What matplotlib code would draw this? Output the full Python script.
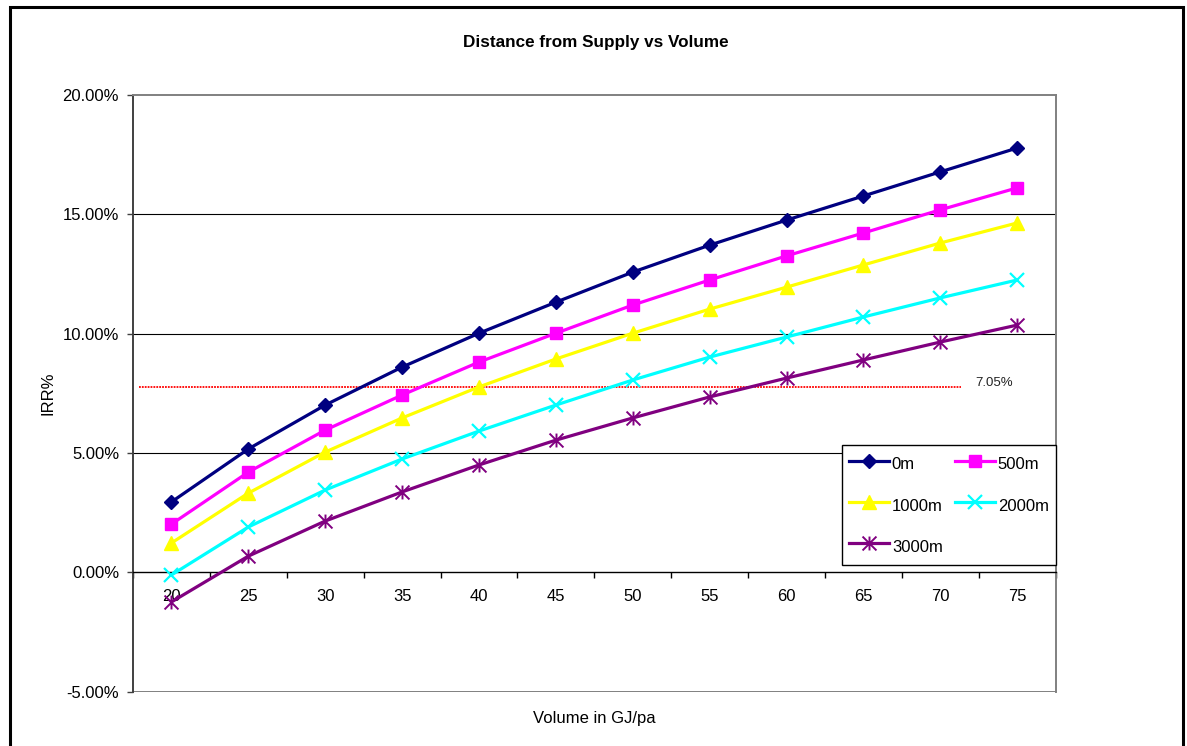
import matplotlib
matplotlib.use("Agg")
import matplotlib.pyplot as plt
from matplotlib.path import Path
from matplotlib.patches import Rectangle
from matplotlib.ticker import FuncFormatter, FixedLocator
import matplotlib.transforms as mtransforms

plt.rcParams['font.family'] = ['Liberation Sans', 'DejaVu Sans']

# Annual volume (GJ/pa) and IRR (%) for each distance from supply
volumes = [20, 25, 30, 35, 40, 45, 50, 55, 60, 65, 70, 75]
irr_0m = [2.95, 5.17, 7.01, 8.60, 10.02, 11.32, 12.58, 13.71, 14.76, 15.77, 16.78, 17.78]
irr_500m = [2.02, 4.20, 5.96, 7.43, 8.81, 10.02, 11.20, 12.25, 13.26, 14.22, 15.19, 16.11]
irr_1000m = [1.23, 3.32, 5.04, 6.47, 7.77, 8.94, 10.02, 11.03, 11.95, 12.88, 13.80, 14.64]
irr_2000m = [-0.11, 1.90, 3.45, 4.75, 5.92, 7.01, 8.06, 9.02, 9.86, 10.70, 11.50, 12.25]
irr_3000m = [-1.24, 0.68, 2.15, 3.37, 4.50, 5.54, 6.47, 7.35, 8.14, 8.90, 9.65, 10.36]
series_labels = ['0m', '500m', '1000m', '2000m', '3000m']

# Hurdle reference line and its annotation
hurdle_level = 7.77
hurdle_text = '7.05%'

y_ticks = [-5, 0, 5, 10, 15, 20]

# Excel-style asterisk marker: an X with a vertical bar through it
star_path = Path(
    [(-1, -1), (1, 1), (-1, 1), (1, -1), (0, -1), (0, 1)],
    [Path.MOVETO, Path.LINETO, Path.MOVETO, Path.LINETO, Path.MOVETO, Path.LINETO],
)

styles = [
    dict(color='#000080', marker='D', markersize=7.5),
    dict(color='#FF00FF', marker='s', markersize=9),
    dict(color='#FFFF00', marker='^', markersize=10.5),
    dict(color='#00FFFF', marker='x', markersize=9.5, markeredgewidth=1.6),
    dict(color='#800080', marker=star_path, markersize=10, markeredgewidth=1.4),
]
all_series = [irr_0m, irr_500m, irr_1000m, irr_2000m, irr_3000m]

W, H = 1187, 746
fig = plt.figure(figsize=(W / 100, H / 100), dpi=100)
fig.patch.set_facecolor('white')

left, right, top, bottom = 133, 1055.7, 95, 691.7
ax = fig.add_axes([left / W, 1 - bottom / H, (right - left) / W, (bottom - top) / H])

xpos = list(range(len(volumes)))
handles = []
for vals, lab, st in zip(all_series, series_labels, styles):
    h, = ax.plot(xpos, vals, linewidth=2.3, label=lab, zorder=4,
                 markerfacecolor=st['color'], markeredgecolor=st['color'], **st)
    handles.append(h)

ax.set_xlim(-0.5, len(volumes) - 0.5)
ax.set_ylim(-5, 20)

# Horizontal gridlines
for yv in [5, 10, 15]:
    ax.axhline(yv, color='black', linewidth=0.8, zorder=1)
ax.axhline(-5, color='#808080', linewidth=1.4, zorder=1)

# Reference line
ax.axhline(hurdle_level, xmin=0.0065, xmax=0.897, color='#FF0000',
           linestyle=(0, (1, 0.6)), linewidth=1.3, zorder=3)
trans = mtransforms.blended_transform_factory(ax.transAxes, ax.transData)
ax.annotate(hurdle_text, xy=(0.9125, hurdle_level), xycoords=trans,
            xytext=(0, 3), textcoords='offset points', fontsize=9.5,
            ha='left', va='center', color='#222222')

# Spines
ax.spines['bottom'].set_position(('data', 0))
ax.spines['bottom'].set_color('black')
ax.spines['bottom'].set_linewidth(1.0)
ax.spines['left'].set_color('#404040')
ax.spines['left'].set_linewidth(1.4)
ax.spines['top'].set_color('#808080')
ax.spines['top'].set_linewidth(1.4)
ax.spines['right'].set_color('#808080')
ax.spines['right'].set_linewidth(1.4)
for s in ax.spines.values():
    s.set_zorder(2)

# Y axis
ax.yaxis.set_major_locator(FixedLocator(y_ticks))
ax.yaxis.set_major_formatter(FuncFormatter(lambda v, p: f'{v:.2f}%'))
ax.tick_params(axis='y', direction='out', length=4, width=1, color='#404040',
               labelsize=12, pad=6)
ax.set_ylabel('IRR%', fontsize=12, labelpad=4.8)

# X axis: ticks on category boundaries, labels at category centres
ax.xaxis.set_major_locator(FixedLocator([i - 0.5 for i in range(len(volumes) + 1)]))
ax.xaxis.set_major_formatter(FuncFormatter(lambda v, p: ''))
ax.xaxis.set_minor_locator(FixedLocator(xpos))
ax.xaxis.set_minor_formatter(FuncFormatter(lambda v, p: str(volumes[int(round(v))])))
ax.tick_params(axis='x', which='major', direction='out', length=4, width=1, color='black')
ax.tick_params(axis='x', which='minor', length=0, labelsize=12, pad=12)

fig.text((left + right) / 2 / W, 1 - 718 / H, 'Volume in GJ/pa', fontsize=12,
         ha='center', va='center')
fig.text(596 / W, 1 - 42.7 / H, 'Distance from Supply vs Volume',
         fontsize=12.3, fontweight='bold', ha='center', va='center')

# Legend laid out row by row in two columns
order = [0, 2, 4, 1, 3]
leg = ax.legend([handles[i] for i in order], [series_labels[i] for i in order],
                ncol=2, loc='lower right', bbox_to_anchor=(1.0, 0.2123),
                borderaxespad=0, fontsize=12, frameon=True, fancybox=False,
                framealpha=1, edgecolor='black', handlelength=2.4,
                handleheight=1.8, handletextpad=0.15, columnspacing=0.75,
                labelspacing=1.05, borderpad=0.42)
leg.get_frame().set_linewidth(1.0)
leg.set_zorder(6)

# Outer chart border
fig.add_artist(Rectangle((10 / W, -0.1), (1182.5 - 10) / W, 1 - 7 / H + 0.1,
                         transform=fig.transFigure, fill=False,
                         edgecolor='black', linewidth=2.2, clip_on=False))

fig.savefig('out.png', dpi=100, facecolor='white')
